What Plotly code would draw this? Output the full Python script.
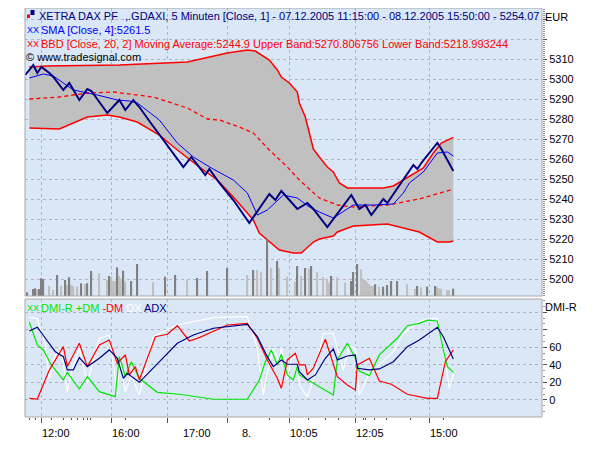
import plotly.graph_objects as go

# ---------------- data (bar index, value) ----------------
price_i = [2, 6, 8, 10, 14, 16, 21, 24, 29, 33, 35, 43, 49, 52, 56, 59, 64, 81, 85, 92, 94, 99, 106, 114,
           124, 127, 130, 138, 143, 146, 153, 165, 169, 172, 175, 181, 183, 191, 196, 198, 200, 208, 210, 216]
price_v = [5302, 5307, 5303, 5306, 5303, 5301, 5294.5, 5298, 5289.5, 5295, 5294, 5283, 5289.5, 5284.5, 5289.5,
           5286, 5279, 5256, 5261, 5252, 5255, 5248, 5239.5, 5228, 5242.5, 5239.5, 5244, 5235, 5238, 5235, 5226,
           5242, 5235, 5237, 5232, 5240, 5238, 5249.5, 5257, 5255, 5258, 5268, 5265, 5254]

sma_i = [4, 11, 16, 26, 38, 48, 54, 58, 69, 78, 86, 95, 106, 113, 118, 123, 131, 138, 144, 149, 156, 166,
         176, 186, 191, 194, 201, 208, 213, 216]
sma_v = [5300.5, 5302.5, 5301.5, 5294.5, 5292, 5289.5, 5289, 5288, 5279.5, 5268, 5261, 5255.5, 5249.5, 5243,
         5232, 5234.5, 5242, 5240.5, 5236, 5233.5, 5230.5, 5237, 5237, 5237.5, 5243, 5248, 5253.5, 5263, 5263.5,
         5261.5]

upper_i = [4, 13, 49, 83, 103, 113, 117, 124, 128, 130, 134, 138, 139, 142, 144, 146, 149, 153, 156, 159, 163,
           181, 186, 193, 201, 206, 210, 216]
upper_v = [5306, 5306.5, 5307, 5308.5, 5313, 5314.5, 5314, 5309.5, 5304.5, 5301, 5298, 5293.5, 5288, 5281, 5273,
           5265, 5261, 5256, 5253.5, 5248, 5245.5, 5245.5, 5246.5, 5250.5, 5255.5, 5263, 5268, 5270.8]

lower_i = [4, 19, 33, 43, 49, 58, 69, 78, 89, 98, 106, 116, 119, 129, 136, 140, 146, 149, 156, 158, 166, 183,
           189, 199, 208, 214, 216]
lower_v = [5275.5, 5275, 5281, 5282, 5281, 5278.5, 5272, 5264.5, 5256, 5249.5, 5241, 5229.5, 5223, 5214.5, 5213,
           5213, 5218.5, 5220, 5221.5, 5223.5, 5226.5, 5227.5, 5226, 5223.5, 5218.5, 5218.5, 5219]

ma_i = [4, 19, 33, 46, 66, 83, 93, 99, 109, 116, 124, 133, 139, 149, 158, 166, 183, 199, 216]
ma_v = [5290, 5291, 5293, 5293.5, 5291, 5285.5, 5280, 5279.5, 5276, 5273, 5264.5, 5256, 5249.5, 5240.5, 5237,
        5236, 5237, 5240, 5244.9]

vol_dark_i = [3, 6, 7, 9, 10, 11, 18, 22, 24, 30, 33, 35, 44, 48, 51, 55, 58, 72, 77, 88, 93, 103, 116, 123,
              128, 138, 142, 145, 155, 165, 166, 168, 177, 181, 183, 185, 188, 198, 203, 207, 216]
vol_dark_v = [3.7, 7, 7.7, 7, 17.7, 17, 21, 16, 18.7, 12.7, 12.7, 25, 20, 28.7, 25.3, 15, 32, 19.3, 21, 18, 25,
              28, 26, 56.7, 35, 30, 28, 30, 20, 15, 24, 32, 11.7, 9.3, 11, 15, 15, 10, 9.3, 10, 7.3]
vol_light_i = [8, 14, 16, 20, 23, 25, 26, 28, 32, 39, 43, 45, 46, 47, 49, 50, 52, 66, 83, 113, 118, 120, 125,
               129, 133, 137, 140, 144, 148, 151, 153, 154, 158, 162, 170, 171, 172, 173, 174, 175, 176, 179,
               193, 197, 200, 208, 209, 210, 213, 214]
vol_light_v = [6.7, 10, 6, 10, 11, 11, 10, 9.3, 12, 22.7, 16, 19.3, 15.3, 15, 20, 17.3, 14.3, 14, 16, 21, 26,
               24.3, 28, 28, 19.3, 14.3, 20, 27.3, 24, 19, 16.7, 13.3, 18.7, 13.3, 26.7, 17.3, 16, 14.3, 12, 10,
               10, 9.3, 12, 7, 8.7, 8.7, 7.7, 7.3, 6, 6]

pdm_i = [4, 8, 11, 15, 21, 23, 29, 33, 39, 47, 49, 52, 55, 59, 68, 79, 96, 113, 119, 122, 125, 128, 130, 133,
         136, 138, 139, 143, 146, 156, 158, 163, 167, 169, 174, 179, 188, 193, 199, 203, 208, 211, 213, 216]
pdm_v = [88.5, 62.6, 57, 39.9, 22.8, 31.5, 12.5, 26.6, 9.5, 3.8, 49.3, 26.6, 43.6, 24.7, 8.7, 6.5, 0.8, 0.8,
         22.8, 43.6, 57, 39.9, 52, 28.5, 22.8, 38, 28.5, 22.8, 19, 5.7, 45.6, 64.6, 47.5, 33, 27.7, 51.3, 70.3,
         84.6, 87.3, 91, 90, 57, 38, 31.5]

mdm_i = [4, 8, 14, 21, 23, 29, 33, 39, 44, 48, 52, 54, 57, 59, 67, 73, 78, 84, 89, 103, 113, 118, 123, 128,
         130, 133, 137, 139, 142, 143, 146, 152, 158, 163, 167, 168, 174, 179, 185, 193, 203, 208, 212, 216]
mdm_v = [1.9, 1.1, 34, 60.7, 38, 64.6, 38, 62.6, 68.3, 41.8, 51.3, 28.5, 38, 22.8, 72.1, 74.8, 84.6, 67.2, 71,
         85.4, 87.3, 70.3, 45.6, 24.7, 13.3, 45.6, 53.2, 40, 40, 28.5, 36.1, 69.1, 26.6, 17, 11.4, 40, 47.5,
         21.6, 17.9, 6.5, 1.9, 1.9, 43.6, 57]

dx_i = [4, 8, 12, 14, 17, 20, 23, 25, 29, 33, 39, 44, 48, 49, 52, 55, 59, 66, 78, 86, 96, 113, 118, 121, 123,
        126, 129, 130, 133, 135, 138, 139, 143, 146, 151, 156, 161, 164, 167, 169, 174, 179, 186, 191, 199, 204,
        208, 211, 214, 216]
dx_v = [93.8, 93, 62.6, 24.7, 51.3, 57, 9.5, 32.3, 58.9, 19, 70.3, 74, 5.7, 47.5, 9.5, 28.5, 5.7, 72.1, 85.4,
        89.2, 93.8, 94.9, 58.9, 5.7, 32.3, 58.9, 43.6, 59.6, 24.7, 47.5, 51.3, 17, 3.8, 22.8, 76, 76, 34.2,
        60.7, 58.9, 5.7, 30.4, 40, 55, 76, 89.2, 93, 93, 58.9, 13.3, 29.6]

adx_i = [4, 8, 12, 17, 21, 23, 26, 29, 33, 39, 44, 48, 51, 53, 59, 78, 86, 96, 113, 118, 123, 126, 130, 133,
         138, 139, 143, 147, 152, 156, 158, 163, 167, 168, 174, 179, 186, 193, 199, 208, 211, 216]
adx_v = [78.6, 82.8, 70.3, 55, 49.3, 34.2, 34.2, 48.2, 38, 47.5, 57, 47.5, 24.7, 30.4, 20.1, 64.6, 74, 81.7,
         86.2, 72.1, 49.3, 38, 45.6, 40.7, 40.7, 32.3, 22.8, 28.5, 47.5, 58.1, 45.6, 50.1, 51.3, 36.1, 34.2,
         35.3, 43.6, 60.7, 68.3, 82.8, 72.1, 46.7]

x_major = [10, 45, 73, 103, 134, 167, 204]
x_minor = [4, 7, 15, 21, 25, 28, 31, 33, 34.5, 52, 124, 143.5, 152, 158.5, 171, 172, 176.5, 182.5, 194.5, 211]
x_labels = ["12:00", "16:00", "17:00", "8.", "10:05", "12:05", "15:00"]
x_label_at = [10, 45, 80.5, 110, 134, 167, 204]

price_ticks = [5200, 5210, 5220, 5230, 5240, 5250, 5260, 5270, 5280, 5290, 5300, 5310, 5320, 5330]
price_ticktext = [str(v) for v in price_ticks[:-2]] + ["", ""]
dmi_ticks = [0, 20, 40, 60, 80, 100]
dmi_ticktext = ["0", "20", "40", "60", "", ""]

# ---------------- style ----------------
BG = "#D9E7F7"
GRID = "rgb(182,178,196)"
NAVY = "#000080"
BLUE = "#0000FF"
RED = "#FF0000"
GREEN = "#00E600"
FONT = "Liberation Sans, Arial, sans-serif"
XR = [1.835, 260.33]

# page has an 8px body margin: figure spans screen x 8..600, y 8..450
W, H = 592, 442
L, R, T, B = 17, 58, 0, 33
# plot area on screen: x 25..542, y 8..417
SX0, SX1, SY0, SY1 = 25, 542, 8, 417


def px(x):
    return (x - SX0) / (SX1 - SX0)


def py(y):
    return (SY1 - y) / (SY1 - SY0)


UP_DOM = [py(296), 1]
LO_DOM = [0, py(299)]

fig = go.Figure()

# band fill
fig.add_trace(go.Scatter(x=upper_i, y=upper_v, mode="lines", line=dict(width=0, color="#C0C0C0"),
                         hoverinfo="skip", xaxis="x", yaxis="y"))
fig.add_trace(go.Scatter(x=lower_i, y=lower_v, mode="lines", line=dict(width=0, color="#C0C0C0"),
                         fill="tonexty", fillcolor="#C0C0C0", hoverinfo="skip", xaxis="x", yaxis="y"))
# bands & MA
fig.add_trace(go.Scatter(x=ma_i, y=ma_v, mode="lines", line=dict(color=RED, width=1.3, dash="4px,3px"),
                         xaxis="x", yaxis="y"))
fig.add_trace(go.Scatter(x=upper_i, y=upper_v, mode="lines", line=dict(color=RED, width=1.5),
                         xaxis="x", yaxis="y"))
fig.add_trace(go.Scatter(x=lower_i, y=lower_v, mode="lines", line=dict(color=RED, width=1.5),
                         xaxis="x", yaxis="y"))
fig.add_trace(go.Scatter(x=sma_i, y=sma_v, mode="lines", line=dict(color=BLUE, width=1),
                         xaxis="x", yaxis="y"))
fig.add_trace(go.Scatter(x=price_i, y=price_v, mode="lines", line=dict(color=NAVY, width=2),
                         xaxis="x", yaxis="y"))
# volume
fig.add_trace(go.Bar(x=vol_light_i, y=vol_light_v, marker=dict(color="#C0C0C0", line=dict(width=0)),
                     width=0.8, xaxis="x", yaxis="y3"))
fig.add_trace(go.Bar(x=vol_dark_i, y=vol_dark_v, marker=dict(color="#808080", line=dict(width=0)),
                     width=0.8, xaxis="x", yaxis="y3"))

# DMI panel
fig.add_trace(go.Scatter(x=dx_i, y=dx_v, mode="lines", line=dict(color="white", width=1.2),
                         xaxis="x2", yaxis="y2"))
fig.add_trace(go.Scatter(x=pdm_i, y=pdm_v, mode="lines", line=dict(color=GREEN, width=1.2),
                         xaxis="x2", yaxis="y2"))
fig.add_trace(go.Scatter(x=mdm_i, y=mdm_v, mode="lines", line=dict(color=RED, width=1.2),
                         xaxis="x2", yaxis="y2"))
fig.add_trace(go.Scatter(x=adx_i, y=adx_v, mode="lines", line=dict(color=NAVY, width=1.2),
                         xaxis="x2", yaxis="y2"))

axis_common = dict(showline=False, zeroline=False, gridcolor=GRID, griddash="dot", gridwidth=1)

fig.update_layout(
    width=W, height=H, margin=dict(l=L, r=R, t=T, b=B, pad=0, autoexpand=False),
    paper_bgcolor="white", plot_bgcolor="white", showlegend=False, barmode="overlay",
    font=dict(family=FONT, size=11, color="black"),
    xaxis=dict(domain=[0, 1], range=XR, anchor="y", tickmode="array", tickvals=x_major,
               showticklabels=False, ticks="", showgrid=True, **axis_common),
    xaxis2=dict(domain=[0, 1], range=XR, anchor="y2", tickmode="array", tickvals=x_major,
                ticktext=[""] * len(x_major), ticks="outside", ticklen=5, tickcolor="#505050",
                minor=dict(tickmode="array", tickvals=x_minor, ticks="outside", ticklen=2,
                           tickcolor="#505050", showgrid=False),
                showgrid=True, **axis_common),
    yaxis=dict(domain=UP_DOM, range=[5191.5, 5335.5], anchor="x", side="right", tickmode="array",
               tickvals=price_ticks, ticktext=price_ticktext, ticks="outside", ticklen=4,
               tickcolor="#505050",
               minor=dict(tickmode="linear", tick0=5200, dtick=1, ticks="outside", ticklen=2,
                          tickcolor="#909090", showgrid=False),
               showgrid=True, tickfont=dict(size=11), **axis_common),
    yaxis3=dict(overlaying="y", range=[0, 288], visible=False, anchor="x"),
    yaxis2=dict(domain=LO_DOM, range=[-19.4, 115], anchor="x2", side="right", tickmode="array",
                tickvals=dmi_ticks, ticktext=dmi_ticktext, ticks="outside", ticklen=4,
                tickcolor="#505050",
                minor=dict(tickmode="linear", tick0=0, dtick=20 / 3, ticks="outside", ticklen=2,
                           tickcolor="#909090", showgrid=False),
                showgrid=True, tickfont=dict(size=11), **axis_common),
)

shapes = []
for dom in (UP_DOM, LO_DOM):
    shapes.append(dict(type="rect", xref="paper", yref="paper", x0=0, x1=1, y0=dom[0], y1=dom[1],
                       fillcolor=BG, line=dict(width=0), layer="below"))
    shapes.append(dict(type="rect", xref="paper", yref="paper", x0=0, x1=1, y0=dom[0], y1=dom[1],
                       fillcolor="rgba(0,0,0,0)", line=dict(color="#A8A8A8", width=1), layer="above"))
# small title icon
shapes.append(dict(type="rect", xref="paper", yref="paper", x0=px(30.5), x1=px(34.5), y0=py(15), y1=py(10),
                   fillcolor=NAVY, line=dict(width=0)))
shapes.append(dict(type="rect", xref="paper", yref="paper", x0=px(27), x1=px(30), y0=py(18), y1=py(14.5),
                   fillcolor=RED, line=dict(width=0)))
fig.update_layout(shapes=shapes)

ann = []


def text(x, y, s, color="black", size=11, xanchor="left"):
    ann.append(dict(x=px(x), y=py(y), xref="paper", yref="paper", text=s, showarrow=False,
                    xanchor=xanchor, yanchor="middle", font=dict(family=FONT, size=size, color=color),
                    borderpad=0))


text(38, 16, "XETRA DAX PF", NAVY)
text(124, 16, ",.GDAXI, 5 Minuten [Close, 1] - 07.12.2005 11:15:00 - 08.12.2005 15:50:00 - 5254.07", NAVY)
text(25.5, 30, "XX", BLUE, 9)
text(39.5, 30, "SMA [Close, 4]:5261.5", BLUE)
text(25.5, 43.5, "XX", RED, 9)
text(39.5, 43.5,
     "BBD [Close, 20, 2] Moving Average:5244.9 Upper Band:5270.806756 Lower Band:5218.993244", RED)
text(25, 57, "© www.tradesignal.com", "black")
text(544, 16.5, "EUR", "black")
text(544, 306.5, "DMI-R", "black")
text(25.5, 307.5, "XX", GREEN, 9)
text(39.5, 307.5,
     "<span style='color:%s'>DMI-R +DM</span> <span style='color:%s'>-DM</span> "
     "<span style='color:white'>DX</span> <span style='color:%s'>ADX</span>" % (GREEN, RED, NAVY),
     GREEN)

for lab, xi in zip(x_labels, x_label_at):
    ann.append(dict(x=xi, y=py(433), xref="x2", yref="paper", text=lab, showarrow=False,
                    xanchor="left", yanchor="middle", font=dict(family=FONT, size=11, color="black"),
                    borderpad=0))

fig.update_layout(annotations=ann)

fig.write_html("out.html")
